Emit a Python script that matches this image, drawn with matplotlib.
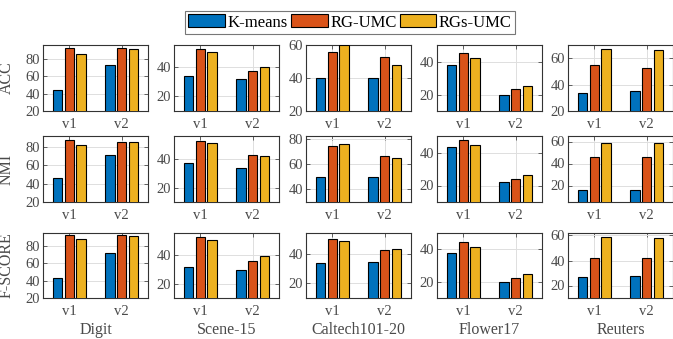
import numpy as np
import matplotlib
matplotlib.use('Agg')
import matplotlib.pyplot as plt
from matplotlib.ticker import MultipleLocator
from matplotlib.patches import Patch

plt.rcParams['font.family'] = ['Liberation Serif', 'DejaVu Serif']

datasets = ['Digit', 'Scene-15', 'Caltech101-20', 'Flower17', 'Reuters']
views = ['v1', 'v2']
methods = ['K-means', 'RG-UMC', 'RGs-UMC']
metrics = ['ACC', 'NMI', 'F-SCORE']

# values per dataset: [v1, v2]
acc_kmeans = [[44, 73], [34, 32], [40, 40], [38, 20], [34, 35]]
acc_rgumc = [[92, 92], [52, 37.5], [56, 53], [45, 23.5], [55, 52.5]]
acc_rgsumc = [[86, 91], [50, 40], [60, 48], [42, 25], [67, 66]]

nmi_kmeans = [[46.5, 71], [37.5, 33.5], [50, 50], [43.5, 22], [16, 16]]
nmi_rgumc = [[87.5, 86], [52.5, 43], [74, 66.5], [47.5, 24], [46, 45.5]]
nmi_rgsumc = [[82.5, 85], [51, 42], [75.5, 64.5], [44.5, 26.5], [59, 58.5]]

f_kmeans = [[43.5, 72], [31.5, 29.5], [33.5, 34.5], [38, 20], [26.5, 28]]
f_rgumc = [[92.5, 93], [52.5, 35.5], [50, 42.5], [44.5, 22.5], [42, 42]]
f_rgsumc = [[87.5, 92], [50.5, 39], [48.5, 43.5], [41.5, 25], [58.5, 58]]

scores = {
    'ACC': [acc_kmeans, acc_rgumc, acc_rgsumc],
    'NMI': [nmi_kmeans, nmi_rgumc, nmi_rgsumc],
    'F-SCORE': [f_kmeans, f_rgumc, f_rgsumc],
}

ylims = {
    'ACC': [(20, 96), (10, 55), (20, 60), (10, 50), (20, 70)],
    'NMI': [(20, 92), (10, 56), (30, 82), (10, 50), (5, 65)],
    'F-SCORE': [(20, 95), (10, 55), (10, 54), (10, 50), (10, 62)],
}

colors = ['#0072BD', '#D95319', '#EDB120']
txt = '#4a4a4a'

W, H = 673, 339
fig = plt.figure(figsize=(W / 100, H / 100), dpi=100)

lefts = [43, 174, 306, 437, 568]
rows = [(45, 111), (136, 202), (233, 298)]
aw = 105

x = np.arange(1, len(views) + 1)
offs = [-0.22, 0, 0.22]
bw = 0.18

for r, metric in enumerate(metrics):
    top, bot = rows[r]
    for c, name in enumerate(datasets):
        ax = fig.add_axes([lefts[c] / W, 1 - bot / H, aw / W, (bot - top) / H])
        for m in range(3):
            vals = scores[metric][m][c]
            ax.bar(x + offs[m], vals, bw, color=colors[m], edgecolor='black',
                   linewidth=0.8, zorder=3)
        ax.set_xlim(0.5, 2.5)
        ax.set_ylim(*ylims[metric][c])
        ax.yaxis.set_major_locator(MultipleLocator(20))
        ax.set_xticks(x)
        ax.set_xticklabels(views)
        ax.grid(True, color='#dedede', linewidth=0.7, zorder=0)
        ax.set_axisbelow(True)
        ax.tick_params(direction='in', length=3, top=True, right=True,
                       labelsize=10.5, colors=txt, width=0.6)
        ax.tick_params(axis='x', pad=5)
        ax.tick_params(axis='y', pad=2)
        for s in ax.spines.values():
            s.set_color('#333333')
            s.set_linewidth(0.8)
        if c == 0:
            ax.set_ylabel(metric, fontsize=11.5, color=txt)
            ax.yaxis.set_label_coords(-0.27, 0.5)
        if r == 2:
            ax.set_xlabel(name, fontsize=11.5, color=txt, labelpad=3)

handles = [Patch(facecolor=colors[i], edgecolor='black', linewidth=0.8) for i in range(3)]
leg = fig.legend(handles, methods, loc='center', bbox_to_anchor=(350 / W, 1 - 22.5 / H),
                 ncol=3, fontsize=12, frameon=True, fancybox=False,
                 handlelength=2.2, handleheight=0.8, handletextpad=0.15,
                 columnspacing=0.2, borderpad=0.2, borderaxespad=0)
leg.get_frame().set_edgecolor('#555555')
leg.get_frame().set_linewidth(0.8)

fig.savefig('out.png', dpi=100)
